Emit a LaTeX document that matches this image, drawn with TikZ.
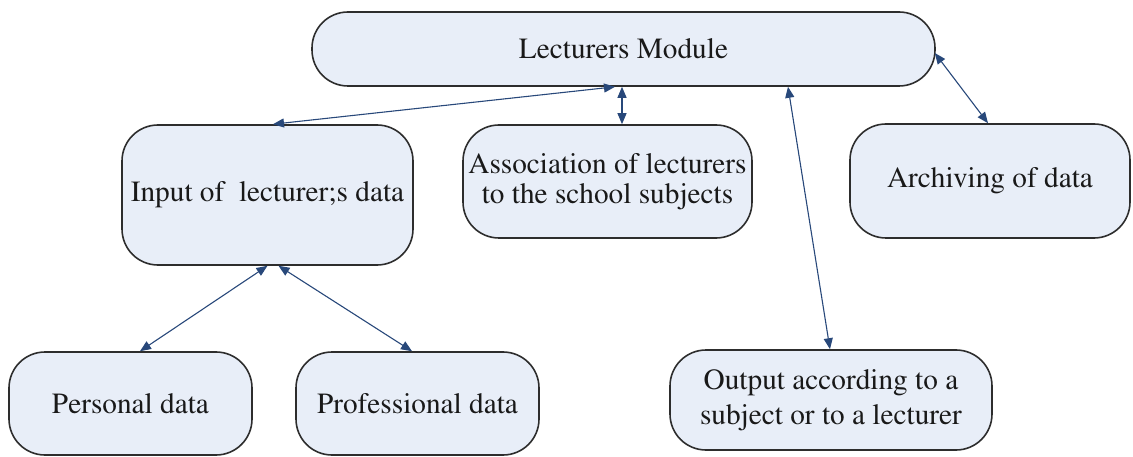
\documentclass[tikz,border=0pt]{standalone}
\usepackage[T1]{fontenc}
\usepackage{mathptmx}
\usetikzlibrary{arrows.meta}

\definecolor{boxfill}{RGB}{232,238,248}
\definecolor{boxline}{RGB}{45,45,45}
\definecolor{linkcol}{RGB}{40,72,122}
\definecolor{txtcol}{RGB}{25,25,25}

\tikzset{
  module/.style={draw=boxline, line width=1.6pt, fill=boxfill, rounded corners=36pt,
    text=txtcol, align=center, inner sep=0pt,
    font=\rmfamily\fontsize{29.3}{30}\selectfont},
  link/.style={draw=linkcol, line width=1.1pt,
    {Triangle[length=11pt,width=9pt]}-{Triangle[length=11pt,width=9pt]}}
}

\begin{document}
\begin{tikzpicture}[x=1pt,y=-1pt]
  \useasboundingbox (0,0) rectangle (1133,457);

  % top-level module
  \node[module, minimum width=623pt, minimum height=74pt] (lect) at (623.5,49) {Lecturers Module};

  % second level
  \node[module, minimum width=291pt, minimum height=140pt] (input) at (267.5,195) {Input of~ lecturer;s data};
  \node[module, minimum width=289pt, minimum height=113pt] (assoc) at (607.5,181.5)
    {Association of lecturers\\to the school subjects};
  \node[module, minimum width=280pt, minimum height=114pt] (arch) at (990,181) {Archiving of data};

  % bottom level
  \node[module, minimum width=243pt, minimum height=103pt] (pers) at (130.5,403.5) {Personal data};
  \node[module, minimum width=243pt, minimum height=103pt] (prof) at (417.5,403.5) {Professional data};
  \node[module, minimum width=322pt, minimum height=100pt, font=\rmfamily\fontsize{29.3}{35}\selectfont]
    (out) at (831,400) {Output according to a\\subject or to a lecturer};

  % connectors
  \draw[link] ([xshift=5.5pt]input.north) -- ([xshift=-8.5pt]lect.south);
  \draw[link] ([xshift=14.5pt]assoc.north) -- ([xshift=-1.5pt]lect.south);
  \draw[link] ([xshift=164.5pt]lect.south) -- ([xshift=-1pt]out.north);
  \draw[link] ([yshift=-4pt,xshift=-1pt]lect.east) -- ([xshift=-2pt]arch.north);
  \draw[link] ([xshift=0pt]input.south) -- ([xshift=9.5pt]pers.north);
  \draw[link] ([xshift=11pt]input.south) -- ([xshift=-5.5pt]prof.north);
\end{tikzpicture}
\end{document}
